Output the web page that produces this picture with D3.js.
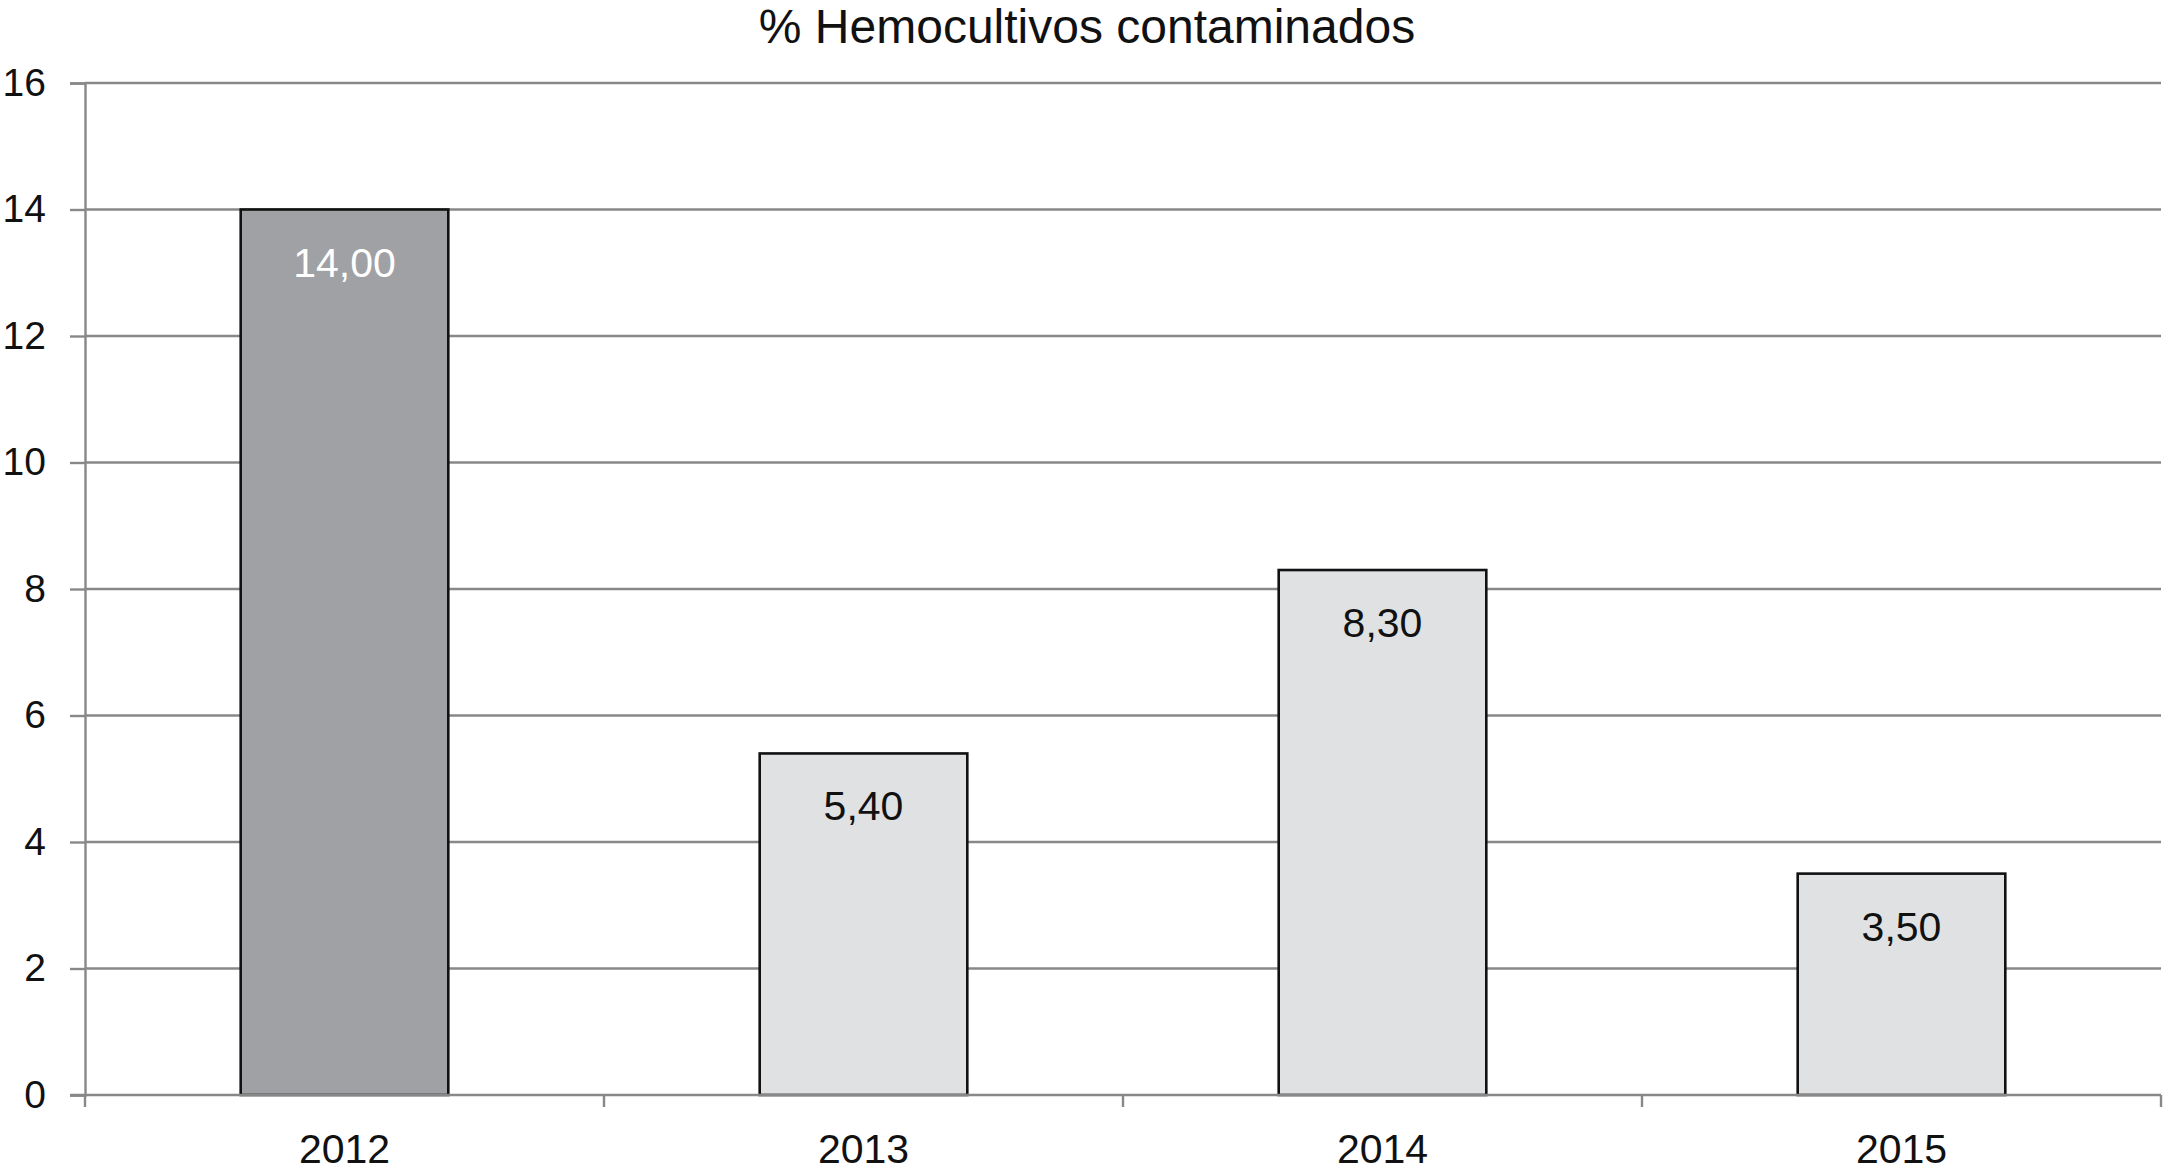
<!DOCTYPE html>
<html>
<head>
<meta charset="utf-8">
<script src="https://cdn.jsdelivr.net/npm/d3@7"></script>
<style>
  html, body { margin: 0; padding: 0; background: #fff; }
  svg { display: block; font-family: "Liberation Sans", Arial, sans-serif; }
</style>
</head>
<body>
<svg id="chart" width="2168" height="1172"></svg>
<script>
const title = "% Hemocultivos contaminados";
const categories = ["2012", "2013", "2014", "2015"];
const values = [14.00, 5.40, 8.30, 3.50];
const valueLabels = ["14,00", "5,40", "8,30", "3,50"];
const yTicks = [0, 2, 4, 6, 8, 10, 12, 14, 16];
const highlight = ["2012"];

(function () {
const svg = d3.select("#chart");
const mLeft = 85, mRight = 2161, mTop = 83, mBottom = 1095;

const x = d3.scaleBand().domain(categories).range([mLeft, mRight])
  .paddingInner(0.6).paddingOuter(0.3);
const y = d3.scaleLinear().domain([0, 16]).range([mBottom, mTop]);

const gridColor = "#888888";

// gridlines
svg.append("g").selectAll("line").data(yTicks.filter(d => d > 0)).join("line")
  .attr("x1", mLeft).attr("x2", mRight)
  .attr("y1", d => y(d)).attr("y2", d => y(d))
  .attr("stroke", gridColor).attr("stroke-width", 2.4);

// y axis
const yAxis = svg.append("g").attr("transform", `translate(${mLeft},0)`)
  .call(d3.axisLeft(y).tickValues(yTicks).tickSize(15).tickPadding(24).tickFormat(d3.format("d")));
yAxis.select(".domain").attr("stroke", gridColor).attr("stroke-width", 2.4);
yAxis.selectAll(".tick line").attr("stroke", gridColor).attr("stroke-width", 2.4);
yAxis.selectAll("text").attr("font-size", 39).attr("fill", "#111")
  .attr("font-family", "'Liberation Sans', Arial, sans-serif");

// bars
svg.append("g").selectAll("rect").data(categories).join("rect")
  .attr("x", d => x(d)).attr("width", x.bandwidth())
  .attr("y", (d, i) => y(values[i])).attr("height", (d, i) => y(0) - y(values[i]))
  .attr("fill", d => highlight.includes(d) ? "#a0a1a5" : "#e0e1e3")
  .attr("stroke", "#111").attr("stroke-width", 2.6);

// x axis
const xAxis = svg.append("g").attr("transform", `translate(0,${mBottom})`)
  .call(d3.axisBottom(x).tickSize(0).tickPadding(39));
xAxis.select(".domain").attr("stroke", gridColor).attr("stroke-width", 2.4)
  .attr("d", `M${mLeft - 15},0H${mRight}`);
xAxis.selectAll("text").attr("font-size", 41).attr("fill", "#111")
  .attr("font-family", "'Liberation Sans', Arial, sans-serif");

// boundary ticks between categories
const edges = d3.range(categories.length + 1).map(i => mLeft + i * x.step());
svg.append("g").selectAll("line").data(edges).join("line")
  .attr("x1", d => d).attr("x2", d => d)
  .attr("y1", mBottom).attr("y2", mBottom + 12)
  .attr("stroke", gridColor).attr("stroke-width", 2.4);

// value labels
svg.append("g").selectAll("text").data(categories).join("text")
  .attr("x", d => x(d) + x.bandwidth() / 2)
  .attr("y", (d, i) => y(values[i]) + 67)
  .attr("text-anchor", "middle").attr("font-size", 41)
  .attr("fill", d => highlight.includes(d) ? "#ffffff" : "#111")
  .text((d, i) => valueLabels[i]);

// title
svg.append("text").attr("x", 1087).attr("y", 43)
  .attr("text-anchor", "middle").attr("font-size", 48).attr("fill", "#111")
  .text(title);
})();
</script>
</body>
</html>
